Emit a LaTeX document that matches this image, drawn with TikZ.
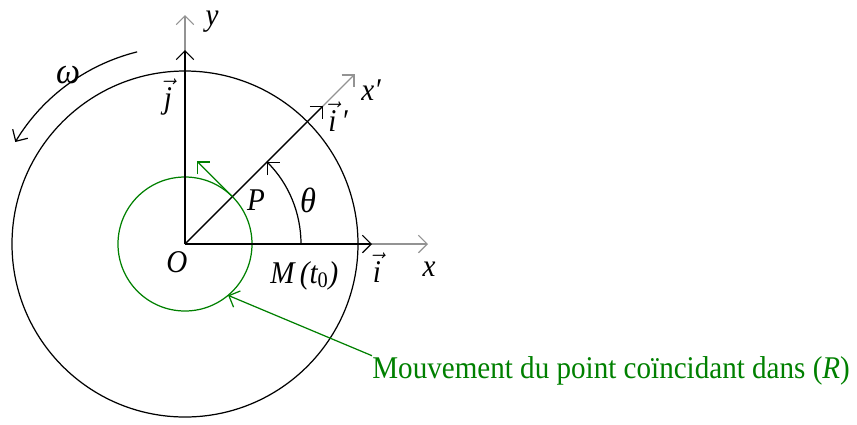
\documentclass[tikz,border=0pt]{standalone}
\usepackage{fontspec}
\setmainfont{Liberation Serif}[FakeStretch=0.92]
\usetikzlibrary{arrows.meta, calc}
\definecolor{mvtgreen}{RGB}{0,128,0}

\begin{document}
\begin{tikzpicture}[
  x=0.02cm, y=0.02cm,
  axis/.style={-{Straight Barb[length=5pt,width=10pt]}, line width=0.7pt},
  greyaxis/.style={axis, draw=gray!85},
  lbl/.style={font=\fontsize{18}{20}\selectfont\itshape, inner sep=0pt, anchor=base},
  mvt/.style={draw=mvtgreen, line width=0.7pt}
]
  \useasboundingbox (-185,-180) rectangle (672,244);
  \coordinate (O) at (0,0);

  % disque et trajectoire du point coincidant
  \draw[line width=0.7pt] (O) circle (173);
  \draw[mvt] (O) circle (67);

  % axes fixes et axe tournant
  \draw[greyaxis] (O) -- (243,0) coordinate (xtip);
  \draw[greyaxis] (O) -- (0,229) coordinate (ytip);
  \draw[greyaxis] (O) -- (45:240) coordinate (xptip);

  % vecteurs de base
  \draw[axis] (O) -- (187,0) coordinate (itip);
  \draw[axis] (O) -- (0,194) coordinate (jtip);
  \draw[axis] (O) -- (45:195) coordinate (iptip);

  % angle et rotation
  \draw[axis] (116,0) coordinate (M) arc (0:45:116);
  \draw[axis] (104:198) arc (104:149:198);

  % point P
  \coordinate (P) at (45:67);
  \draw[mvt, axis] (P) -- ++(135:50);

  \node[lbl] (ylbl) at (27,219) {y};
  \node[lbl, font=\fontsize{21}{22}\selectfont\itshape] (omega) at (-117,161) {ω};
  \node[lbl] (jlbl) at (-17,136) {$\vec{\textit{j}}$};
  \node[lbl] (xplbl) at (186,144) {x′};
  \node[lbl] (iplbl) at (153,113) {$\vec{\textit{i}}\,$′};
  \node[lbl] (Plbl) at (71,34) {P};
  \node[lbl, font=\fontsize{20}{22}\selectfont\itshape] (theta) at (123,32) {θ};
  \node[lbl] (Olbl) at (-8,-28) {O};
  \node[lbl, anchor=base west] (Mlbl) at (85,-39) {M\,(t\textsubscript{\upshape 0})};
  \node[lbl] (ilbl) at (192,-38) {$\vec{\textit{i}}$};
  \node[lbl] (xlbl) at (244,-32) {x};

  \node[lbl, font=\fontsize{18}{20}\selectfont, text=mvtgreen, anchor=base west] (mvttext) at (187,-134)
    {Mouvement du point coïncidant dans (\textit{R})};
  \draw[mvt, axis] (mvttext.north west) -- (-50:67);
\end{tikzpicture}
\end{document}
